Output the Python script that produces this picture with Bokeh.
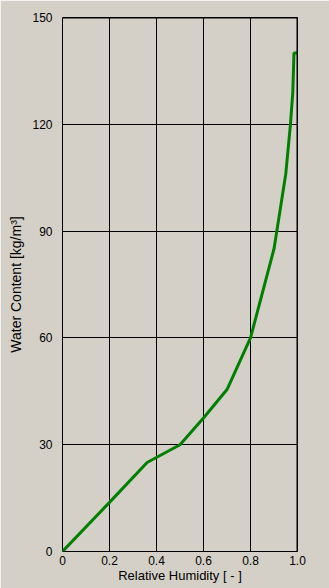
from bokeh.plotting import figure
from bokeh.models import FixedTicker, Span, Range1d
from bokeh.embed import file_html
from bokeh.resources import INLINE

# Data
relative_humidity = [0.0, 0.2, 0.36, 0.5, 0.6, 0.7, 0.8, 0.9, 0.95, 0.97, 0.98, 0.985, 1.0]
water_content = [0.0, 13.8, 25.0, 30.0, 37.5, 45.5, 60.0, 85.0, 106.0, 120.0, 129.0, 140.0, 140.0]

x_ticks = [0.0, 0.2, 0.4, 0.6, 0.8, 1.0]
x_tick_labels = ["0", "0.2", "0.4", "0.6", "0.8", "1.0"]
y_ticks = [0, 30, 60, 90, 120, 150]
y_tick_labels = ["0", "30", "60", "90", "120", "150"]

BG = "#D4D0C8"
FONT = "Liberation Sans"

p = figure(width=329, height=588, output_backend="svg", toolbar_location=None,
           x_range=Range1d(0, 1), y_range=Range1d(0, 150),
           min_border_left=62, min_border_right=32, min_border_top=17, min_border_bottom=37)

p.background_fill_color = BG
p.border_fill_color = BG
p.outline_line_color = "black"
p.outline_line_width = 1

p.line(relative_humidity, water_content, line_color="#008000", line_width=3)

for ax in (p.xaxis[0], p.yaxis[0]):
    ax.axis_line_color = None
    ax.major_tick_line_color = None
    ax.minor_tick_line_color = None
    ax.major_label_text_font = FONT
    ax.major_label_text_font_size = "12px"
    ax.major_label_text_color = "black"
    ax.axis_label_text_font = FONT
    ax.axis_label_text_font_size = "13px"
    ax.axis_label_text_font_style = "normal"
    ax.axis_label_text_color = "black"

p.xaxis[0].ticker = FixedTicker(ticks=x_ticks)
p.xaxis[0].major_label_overrides = {t: l for t, l in zip(x_ticks, x_tick_labels)}
p.xaxis[0].major_label_standoff = -2
p.xaxis[0].axis_label = "Relative Humidity [ - ]"
p.xaxis[0].axis_label_standoff = 0

p.yaxis[0].ticker = FixedTicker(ticks=y_ticks)
p.yaxis[0].major_label_overrides = {t: l for t, l in zip(y_ticks, y_tick_labels)}
p.yaxis[0].major_label_standoff = 4
p.yaxis[0].axis_label = "Water Content [kg/m³]"
p.yaxis[0].axis_label_text_font_size = "14px"
p.yaxis[0].axis_label_standoff = 5

p.xgrid[0].ticker = FixedTicker(ticks=x_ticks)
p.ygrid[0].ticker = FixedTicker(ticks=y_ticks)
p.xgrid.grid_line_color = "black"
p.ygrid.grid_line_color = "black"
p.xgrid.grid_line_width = 1
p.ygrid.grid_line_width = 1

# heavier top and right frame edges
p.add_layout(Span(location=p.y_range.end, dimension="width", line_color="black", line_width=2))
p.add_layout(Span(location=p.x_range.end, dimension="height", line_color="black", line_width=2))

open("out.html", "w").write(file_html(p, INLINE))
